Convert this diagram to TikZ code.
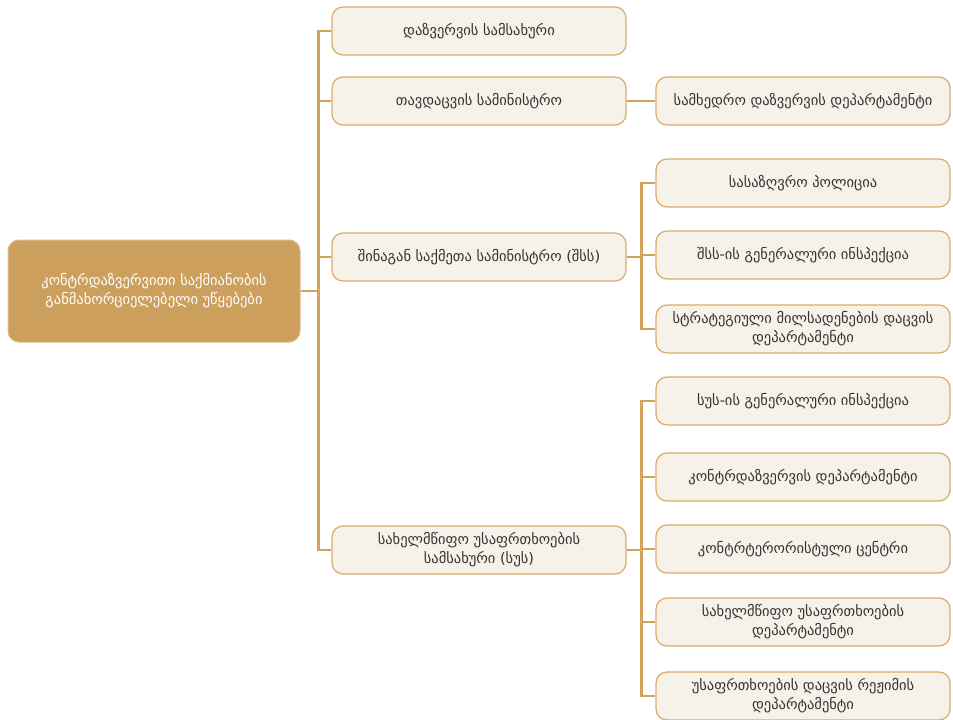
\documentclass[tikz,border=0pt]{standalone}
\usepackage{fontspec}
\setmainfont{DejaVu Sans}
\usetikzlibrary{positioning,calc}
\definecolor{kaGold}{HTML}{CC9F5C}
\definecolor{kaEdge}{HTML}{D8AC68}
\definecolor{kaFill}{HTML}{F6F1E9}
\definecolor{kaLine}{HTML}{D4A259}
\definecolor{kaText}{HTML}{333333}
\tikzset{
  kanode/.style={
    rounded corners=11pt, minimum width=294pt, minimum height=48pt,
    align=center, font=\fontsize{14.5}{19}\selectfont, inner sep=2pt
  },
  rootbox/.style={kanode, fill=kaGold, draw=kaGold!70!white, line width=1pt,
    text=white, minimum width=292pt, minimum height=102pt},
  unitbox/.style={kanode, fill=kaFill, draw=kaEdge, line width=1.2pt, text=kaText},
  link/.style={kaLine, line width=2.3pt}
}
\begin{document}
\begin{tikzpicture}[x=1pt, y=-1pt]
  \useasboundingbox (0,0) rectangle (953,720);
  % root
  \node[rootbox] (root) at (154,291) {კონტრდაზვერვითი საქმიანობის\\განმახორციელებელი უწყებები};
  % first level
  \node[unitbox] (intel) at (479,31) {დაზვერვის სამსახური};
  \node[unitbox] (mod) at (479,101) {თავდაცვის სამინისტრო};
  \node[unitbox] (mia) at (479,257) {შინაგან საქმეთა სამინისტრო (შსს)};
  \node[unitbox] (sss) at (479,550) {სახელმწიფო უსაფრთხოების\\სამსახური (სუს)};
  % second level
  \node[unitbox] (modmil) at (803,101) {სამხედრო დაზვერვის დეპარტამენტი};
  \node[unitbox] (miabord) at (803,183) {სასაზღვრო პოლიცია};
  \node[unitbox] (miainsp) at (803,255) {შსს-ის გენერალური ინსპექცია};
  \node[unitbox] (miapipe) at (803,329) {სტრატეგიული მილსადენების დაცვის\\დეპარტამენტი};
  \node[unitbox] (sssinsp) at (803,401) {სუს-ის გენერალური ინსპექცია};
  \node[unitbox] (ssscounter) at (803,477) {კონტრდაზვერვის დეპარტამენტი};
  \node[unitbox] (sssterror) at (803,549) {კონტრტერორისტული ცენტრი};
  \node[unitbox] (sssstate) at (803,622) {სახელმწიფო უსაფრთხოების\\დეპარტამენტი};
  \node[unitbox] (sssregime) at (803,696) {უსაფრთხოების დაცვის რეჟიმის\\დეპარტამენტი};
  % connectors
  \foreach \n in {intel,mod,mia,sss}
    \draw[link] (root.east) -- ++(18,0) |- (\n.west);
  \draw[link] (mod.east) -- (modmil.west);
  \foreach \n in {miabord,miainsp,miapipe}
    \draw[link] (mia.east) -- ++(15,0) |- (\n.west);
  \foreach \n in {sssinsp,ssscounter,sssterror,sssstate,sssregime}
    \draw[link] (sss.east) -- ++(15,0) |- (\n.west);
\end{tikzpicture}
\end{document}
